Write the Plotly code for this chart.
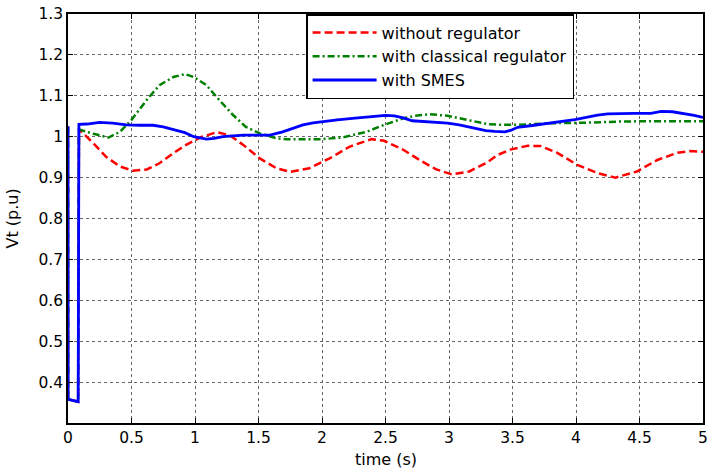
import plotly.graph_objects as go

# Terminal voltage response after a three-phase fault (0 - 0.085 s)
t_none = [0, 0.001, 0.08, 0.086, 0.2, 0.3, 0.41, 0.51, 0.62, 0.72, 0.83, 0.93, 1.04,
          1.17, 1.27, 1.38, 1.51, 1.64, 1.75, 1.9, 2.06, 2.22, 2.39, 2.49, 2.64, 2.79,
          2.9, 3.02, 3.16, 3.3, 3.38, 3.49, 3.62, 3.72, 3.85, 4.01, 4.17, 4.31, 4.48,
          4.64, 4.8, 4.9, 5.0]
vt_none = [1.025, 0.358, 0.352, 1.018, 0.984, 0.951, 0.927, 0.917, 0.920, 0.935, 0.960,
           0.980, 0.998, 1.011, 1.004, 0.980, 0.947, 0.923, 0.914, 0.923, 0.947, 0.976,
           0.994, 0.990, 0.968, 0.939, 0.920, 0.908, 0.915, 0.937, 0.955, 0.969, 0.978,
           0.977, 0.961, 0.931, 0.911, 0.900, 0.915, 0.943, 0.961, 0.965, 0.963]

t_classic = [0, 0.001, 0.08, 0.086, 0.2, 0.32, 0.41, 0.5, 0.62, 0.72, 0.83, 0.92, 0.99,
             1.09, 1.19, 1.3, 1.4, 1.51, 1.64, 1.72, 1.85, 2.0, 2.16, 2.35, 2.49, 2.64,
             2.75, 2.85, 2.99, 3.16, 3.3, 3.42, 3.54, 3.67, 3.8, 4.06, 4.33, 4.6, 5.0]
vt_classic = [1.025, 0.358, 0.352, 1.018, 1.007, 0.998, 1.012, 1.041, 1.090, 1.126, 1.146,
              1.153, 1.146, 1.126, 1.090, 1.053, 1.024, 1.008, 0.996, 0.994, 0.994, 0.994,
              0.998, 1.012, 1.029, 1.045, 1.052, 1.055, 1.051, 1.041, 1.031, 1.029, 1.029,
              1.031, 1.033, 1.034, 1.037, 1.038, 1.038]

t_smes = [0, 0.001, 0.08, 0.086, 0.15, 0.25, 0.35, 0.46, 0.57, 0.67, 0.75, 0.83, 0.92,
          0.99, 1.05, 1.09, 1.15, 1.22, 1.38, 1.59, 1.69, 1.77, 1.85, 1.93, 2.0, 2.12,
          2.24, 2.35, 2.43, 2.5, 2.57, 2.64, 2.71, 2.85, 2.99, 3.08, 3.16, 3.22, 3.29,
          3.36, 3.44, 3.49, 3.54, 3.67, 3.8, 3.9, 3.99, 4.08, 4.17, 4.25, 4.33, 4.46,
          4.59, 4.67, 4.76, 4.85, 4.93, 5.0]
vt_smes = [1.025, 0.358, 0.352, 1.030, 1.031, 1.035, 1.033, 1.029, 1.028, 1.028, 1.024,
           1.018, 1.010, 1.000, 0.996, 0.994, 0.996, 1.000, 1.004, 1.004, 1.012, 1.020,
           1.029, 1.034, 1.037, 1.041, 1.045, 1.048, 1.051, 1.052, 1.051, 1.046, 1.039,
           1.036, 1.033, 1.029, 1.024, 1.020, 1.015, 1.013, 1.012, 1.016, 1.023, 1.028,
           1.033, 1.037, 1.042, 1.047, 1.053, 1.056, 1.057, 1.057, 1.057, 1.062, 1.061,
           1.057, 1.052, 1.047]

names = ["without regulator", "with classical regulator", "with SMES"]

x_ticks = [0, 0.5, 1, 1.5, 2, 2.5, 3, 3.5, 4, 4.5, 5]
x_labels = ["0", "0.5", "1", "1.5", "2", "2.5", "3", "3.5", "4", "4.5", "5"]
y_ticks = [0.4, 0.5, 0.6, 0.7, 0.8, 0.9, 1.0, 1.1, 1.2, 1.3]
y_labels = ["0.4", "0.5", "0.6", "0.7", "0.8", "0.9", "1", "1.1", "1.2", "1.3"]

FONT = "DejaVu Sans, Verdana, sans-serif"

fig = go.Figure()
fig.add_trace(go.Scatter(x=t_none, y=vt_none, mode="lines", name=names[0],
                         line=dict(color="#ff0000", width=2.5, dash="8px,4px")))
fig.add_trace(go.Scatter(x=t_classic, y=vt_classic, mode="lines", name=names[1],
                         line=dict(color="#008000", width=2.5, dash="7px,3px,2px,3px")))
fig.add_trace(go.Scatter(x=t_smes, y=vt_smes, mode="lines", name=names[2],
                         line=dict(color="#0000ff", width=2.8)))

axis_common = dict(
    showline=True, linecolor="black", linewidth=1.5, mirror="allticks",
    ticks="inside", ticklen=5, tickwidth=1, tickcolor="black",
    showgrid=True, gridcolor="#666666", griddash="dot", gridwidth=1,
    zeroline=False, automargin=False,
    tickfont=dict(family=FONT, size=15.5, color="black"),
)

fig.update_layout(
    width=708, height=470,
    margin=dict(l=68, r=5, t=14, b=47),
    paper_bgcolor="white", plot_bgcolor="white",
    font=dict(family=FONT, size=16, color="black"),
    xaxis=dict(range=[0, 5], tickvals=x_ticks, ticktext=x_labels, **axis_common),
    yaxis=dict(range=[0.3, 1.3], tickvals=y_ticks, ticktext=y_labels, **axis_common),
    legend=dict(x=0.797, y=1.0, xanchor="right", yanchor="top",
                bgcolor="white", bordercolor="black", borderwidth=1.5,
                font=dict(family=FONT, size=16, color="black"),
                itemwidth=64, tracegroupgap=0),
    showlegend=True,
    annotations=[
        dict(text="time (s)", xref="paper", yref="paper", x=0.5, y=0,
             xanchor="center", yanchor="top", yshift=-25, showarrow=False,
             font=dict(family=FONT, size=16, color="black")),
        dict(text="Vt (p.u)", xref="paper", yref="paper", x=0, y=0.5,
             xanchor="center", yanchor="middle", xshift=-56, textangle=-90,
             showarrow=False, font=dict(family=FONT, size=16, color="black")),
    ],
)

fig.write_html("out.html")
